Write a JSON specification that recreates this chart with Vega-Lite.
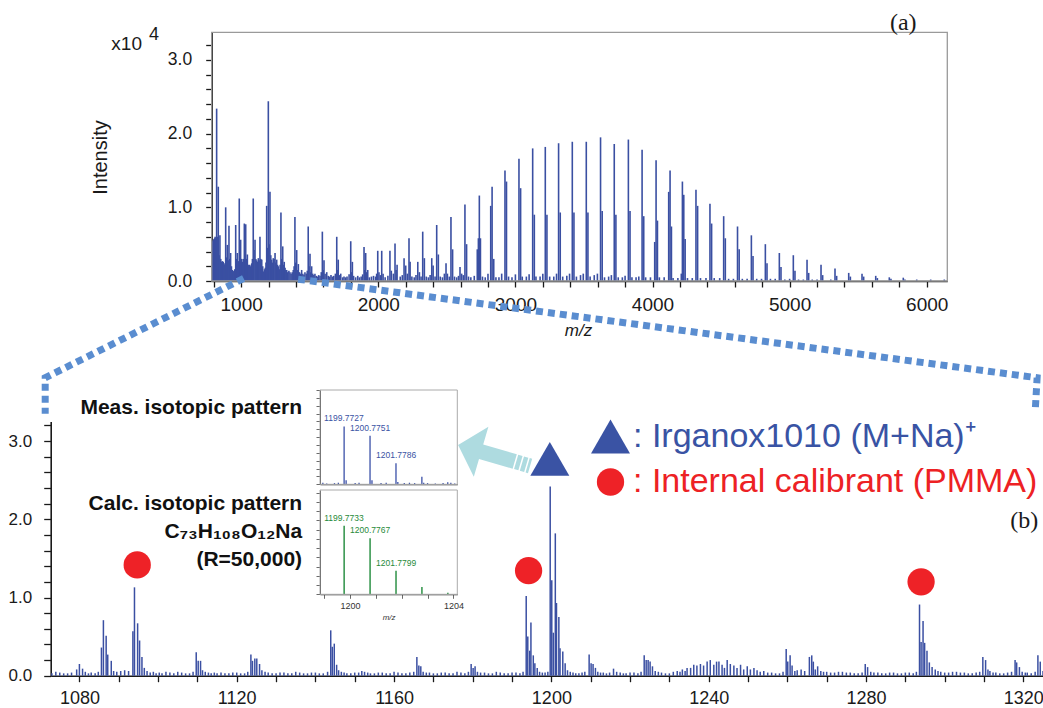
{
"$schema": "https://vega.github.io/schema/vega-lite/v6.json",
"width": 1043, "height": 708, "padding": 0, "autosize": "none", "background": "white",
"config": {
 "view": {"stroke": null},
 "axis": {"grid": false, "labelFont": "Liberation Sans", "titleFont": "Liberation Sans", "labelColor": "#1a1a1a", "titleColor": "#1a1a1a", "domainColor": "#1a1a1a", "tickColor": "#1a1a1a", "zindex": 1, "labelOverlap": false, "labelFlush": false, "labelBound": false, "titleFontWeight": "normal"}
},
"datasets": {
 "top": [
{"m":786,"i":0.50},{"m":790,"i":0.53},{"m":794,"i":0.55},{"m":798,"i":0.56},{"m":802,"i":0.57},{"m":806,"i":0.58},{"m":810,"i":0.60},{"m":814,"i":0.58},{"m":821,"i":2.34},{"m":827,"i":0.60},{"m":833,"i":1.28},{"m":839,"i":0.35},{"m":845,"i":0.62},{"m":851,"i":0.30},{"m":857,"i":0.26},{"m":863,"i":0.27},{"m":869,"i":0.26},{"m":875,"i":0.24},{"m":881,"i":0.22},{"m":887,"i":1.00},{"m":893,"i":0.32},{"m":899,"i":0.49},{"m":905,"i":0.28},{"m":911,"i":0.75},{"m":917,"i":0.30},{"m":923,"i":0.38},{"m":929,"i":0.20},{"m":935,"i":0.15},{"m":941,"i":0.13},{"m":947,"i":0.14},{"m":953,"i":0.16},{"m":960,"i":0.76},{"m":966,"i":0.30},{"m":972,"i":0.38},{"m":979,"i":0.27},{"m":986,"i":1.12},{"m":991,"i":0.40},{"m":996,"i":0.56},{"m":1002,"i":0.30},{"m":1008,"i":0.26},{"m":1015,"i":0.30},{"m":1023,"i":0.78},{"m":1028,"i":0.35},{"m":1033,"i":0.77},{"m":1039,"i":0.30},{"m":1045,"i":0.36},{"m":1051,"i":0.22},{"m":1057,"i":0.20},{"m":1063,"i":0.22},{"m":1070,"i":0.20},{"m":1077,"i":0.24},{"m":1082,"i":0.30},{"m":1088,"i":1.12},{"m":1094,"i":0.42},{"m":1101,"i":0.56},{"m":1107,"i":0.30},{"m":1113,"i":0.28},{"m":1119,"i":0.26},{"m":1125,"i":0.31},{"m":1131,"i":0.28},{"m":1137,"i":0.60},{"m":1143,"i":0.30},{"m":1150,"i":0.29},{"m":1157,"i":0.20},{"m":1164,"i":0.13},{"m":1170,"i":0.16},{"m":1176,"i":0.18},{"m":1181,"i":0.25},{"m":1186,"i":1.02},{"m":1192,"i":0.45},{"m":1198,"i":2.44},{"m":1204,"i":0.50},{"m":1210,"i":1.21},{"m":1216,"i":0.35},{"m":1222,"i":0.29},{"m":1228,"i":0.25},{"m":1234,"i":0.31},{"m":1240,"i":0.30},{"m":1247,"i":0.38},{"m":1253,"i":0.25},{"m":1259,"i":0.29},{"m":1265,"i":0.22},{"m":1271,"i":0.20},{"m":1278,"i":0.16},{"m":1284,"i":0.22},{"m":1290,"i":0.93},{"m":1296,"i":0.30},{"m":1303,"i":0.47},{"m":1309,"i":0.22},{"m":1314,"i":0.26},{"m":1320,"i":0.18},{"m":1326,"i":0.15},{"m":1332,"i":0.15},{"m":1340,"i":0.12},{"m":1348,"i":0.14},{"m":1356,"i":0.12},{"m":1364,"i":0.10},{"m":1372,"i":0.12},{"m":1380,"i":0.15},{"m":1386,"i":0.20},{"m":1392,"i":0.87},{"m":1398,"i":0.25},{"m":1405,"i":0.42},{"m":1411,"i":0.15},{"m":1417,"i":0.23},{"m":1425,"i":0.12},{"m":1433,"i":0.10},{"m":1441,"i":0.15},{"m":1450,"i":0.10},{"m":1458,"i":0.08},{"m":1465,"i":0.12},{"m":1475,"i":0.10},{"m":1482,"i":0.14},{"m":1489,"i":0.74},{"m":1495,"i":0.20},{"m":1502,"i":0.37},{"m":1508,"i":0.12},{"m":1514,"i":0.20},{"m":1522,"i":0.10},{"m":1530,"i":0.08},{"m":1538,"i":0.10},{"m":1548,"i":0.07},{"m":1556,"i":0.06},{"m":1565,"i":0.08},{"m":1575,"i":0.07},{"m":1584,"i":0.12},{"m":1592,"i":0.67},{"m":1598,"i":0.15},{"m":1604,"i":0.28},{"m":1612,"i":0.10},{"m":1624,"i":0.12},{"m":1635,"i":0.07},{"m":1645,"i":0.06},{"m":1655,"i":0.08},{"m":1665,"i":0.06},{"m":1675,"i":0.07},{"m":1687,"i":0.10},{"m":1697,"i":0.60},{"m":1703,"i":0.15},{"m":1708,"i":0.29},{"m":1716,"i":0.08},{"m":1726,"i":0.10},{"m":1740,"i":0.05},{"m":1750,"i":0.06},{"m":1762,"i":0.05},{"m":1772,"i":0.06},{"m":1787,"i":0.09},{"m":1799,"i":0.54},{"m":1805,"i":0.12},{"m":1811,"i":0.26},{"m":1820,"i":0.07},{"m":1835,"i":0.05},{"m":1850,"i":0.07},{"m":1862,"i":0.05},{"m":1875,"i":0.06},{"m":1886,"i":0.09},{"m":1896,"i":0.46},{"m":1902,"i":0.15},{"m":1908,"i":0.38},{"m":1915,"i":0.12},{"m":1923,"i":0.15},{"m":1935,"i":0.05},{"m":1950,"i":0.06},{"m":1965,"i":0.07},{"m":1980,"i":0.06},{"m":1988,"i":0.10},{"m":1996,"i":0.41},{"m":2005,"i":0.12},{"m":2015,"i":0.08},{"m":2025,"i":0.41},{"m":2035,"i":0.10},{"m":2050,"i":0.05},{"m":2070,"i":0.07},{"m":2085,"i":0.41},{"m":2095,"i":0.14},{"m":2110,"i":0.10},{"m":2122,"i":0.51},{"m":2130,"i":0.15},{"m":2137,"i":0.22},{"m":2160,"i":0.06},{"m":2175,"i":0.08},{"m":2188,"i":0.31},{"m":2200,"i":0.21},{"m":2212,"i":0.10},{"m":2224,"i":0.58},{"m":2232,"i":0.26},{"m":2245,"i":0.06},{"m":2262,"i":0.05},{"m":2275,"i":0.08},{"m":2288,"i":0.26},{"m":2300,"i":0.12},{"m":2312,"i":0.06},{"m":2324,"i":0.67},{"m":2336,"i":0.31},{"m":2350,"i":0.06},{"m":2365,"i":0.05},{"m":2378,"i":0.08},{"m":2390,"i":0.31},{"m":2400,"i":0.21},{"m":2414,"i":0.06},{"m":2426,"i":0.76},{"m":2438,"i":0.36},{"m":2452,"i":0.06},{"m":2468,"i":0.05},{"m":2482,"i":0.10},{"m":2494,"i":0.24},{"m":2504,"i":0.10},{"m":2518,"i":0.06},{"m":2530,"i":0.87},{"m":2542,"i":0.43},{"m":2556,"i":0.06},{"m":2572,"i":0.05},{"m":2585,"i":0.07},{"m":2596,"i":0.19},{"m":2608,"i":0.10},{"m":2620,"i":0.08},{"m":2632,"i":1.04},{"m":2644,"i":0.50},{"m":2658,"i":0.06},{"m":2675,"i":0.05},{"m":2700,"i":0.07},{"m":2722,"i":0.43},{"m":2730,"i":0.58},{"m":2737,"i":1.16},{"m":2745,"i":0.58},{"m":2760,"i":0.06},{"m":2780,"i":0.05},{"m":2800,"i":0.10},{"m":2820,"i":1.02},{"m":2830,"i":1.28},{"m":2842,"i":0.30},{"m":2858,"i":0.05},{"m":2880,"i":0.05},{"m":2900,"i":0.10},{"m":2924,"i":1.50},{"m":2935,"i":1.35},{"m":2950,"i":0.06},{"m":2975,"i":0.05},{"m":3000,"i":0.09},{"m":3026,"i":1.66},{"m":3038,"i":1.26},{"m":3050,"i":0.06},{"m":3080,"i":0.06},{"m":3100,"i":0.09},{"m":3126,"i":1.80},{"m":3138,"i":0.90},{"m":3150,"i":0.06},{"m":3180,"i":0.06},{"m":3200,"i":0.10},{"m":3218,"i":1.82},{"m":3230,"i":0.90},{"m":3250,"i":0.06},{"m":3280,"i":0.06},{"m":3300,"i":0.10},{"m":3315,"i":1.87},{"m":3327,"i":0.93},{"m":3345,"i":0.06},{"m":3375,"i":0.07},{"m":3395,"i":0.10},{"m":3415,"i":1.89},{"m":3427,"i":0.93},{"m":3445,"i":0.06},{"m":3475,"i":0.08},{"m":3495,"i":0.10},{"m":3517,"i":1.89},{"m":3529,"i":0.93},{"m":3545,"i":0.06},{"m":3575,"i":0.08},{"m":3598,"i":0.10},{"m":3621,"i":1.95},{"m":3633,"i":0.95},{"m":3650,"i":0.05},{"m":3680,"i":0.06},{"m":3700,"i":0.08},{"m":3721,"i":1.86},{"m":3733,"i":0.90},{"m":3750,"i":0.05},{"m":3780,"i":0.05},{"m":3800,"i":0.07},{"m":3824,"i":1.92},{"m":3836,"i":0.95},{"m":3850,"i":0.05},{"m":3880,"i":0.05},{"m":3900,"i":0.06},{"m":3924,"i":1.78},{"m":3936,"i":0.88},{"m":3950,"i":0.05},{"m":3985,"i":0.05},{"m":4016,"i":0.53},{"m":4026,"i":1.64},{"m":4036,"i":0.82},{"m":4050,"i":0.05},{"m":4085,"i":0.05},{"m":4118,"i":1.21},{"m":4128,"i":1.50},{"m":4138,"i":0.74},{"m":4150,"i":0.04},{"m":4185,"i":0.04},{"m":4210,"i":0.10},{"m":4218,"i":1.35},{"m":4228,"i":1.17},{"m":4238,"i":0.57},{"m":4255,"i":0.04},{"m":4290,"i":0.04},{"m":4317,"i":1.24},{"m":4329,"i":1.02},{"m":4350,"i":0.04},{"m":4390,"i":0.04},{"m":4419,"i":1.05},{"m":4431,"i":0.78},{"m":4450,"i":0.04},{"m":4490,"i":0.04},{"m":4519,"i":0.88},{"m":4531,"i":0.58},{"m":4555,"i":0.03},{"m":4590,"i":0.03},{"m":4620,"i":0.74},{"m":4632,"i":0.43},{"m":4655,"i":0.03},{"m":4690,"i":0.03},{"m":4721,"i":0.62},{"m":4733,"i":0.34},{"m":4760,"i":0.03},{"m":4795,"i":0.03},{"m":4823,"i":0.50},{"m":4835,"i":0.24},{"m":4860,"i":0.03},{"m":4895,"i":0.03},{"m":4925,"i":0.38},{"m":4937,"i":0.19},{"m":4965,"i":0.02},{"m":5000,"i":0.03},{"m":5027,"i":0.35},{"m":5039,"i":0.14},{"m":5065,"i":0.02},{"m":5100,"i":0.02},{"m":5127,"i":0.29},{"m":5139,"i":0.11},{"m":5165,"i":0.02},{"m":5200,"i":0.02},{"m":5229,"i":0.22},{"m":5241,"i":0.08},{"m":5300,"i":0.02},{"m":5331,"i":0.17},{"m":5343,"i":0.07},{"m":5431,"i":0.11},{"m":5443,"i":0.06},{"m":5528,"i":0.10},{"m":5540,"i":0.06},{"m":5628,"i":0.07},{"m":5640,"i":0.04},{"m":5727,"i":0.05},{"m":5739,"i":0.03},{"m":5829,"i":0.045},{"m":5841,"i":0.02},{"m":5927,"i":0.02},{"m":6029,"i":0.02},{"m":6128,"i":0.02}
 ],
 "bot": [
{"m":1073,"i":0.03},{"m":1074,"i":0.05},{"m":1075,"i":0.04},{"m":1076,"i":0.03},{"m":1077,"i":0.03},{"m":1078,"i":0.04},{"m":1079.3,"i":0.08},{"m":1080,"i":0.15},{"m":1080.8,"i":0.09},{"m":1081.5,"i":0.05},{"m":1082.3,"i":0.03},{"m":1083,"i":0.04},{"m":1084,"i":0.03},{"m":1084.8,"i":0.05},{"m":1085.6,"i":0.36},{"m":1086.1,"i":0.71},{"m":1086.8,"i":0.51},{"m":1087.2,"i":0.27},{"m":1088.1,"i":0.19},{"m":1088.7,"i":0.06},{"m":1089.5,"i":0.05},{"m":1090.5,"i":0.06},{"m":1091.5,"i":0.07},{"m":1092.5,"i":0.06},{"m":1093.6,"i":0.57},{"m":1094,"i":1.13},{"m":1094.8,"i":0.67},{"m":1095.3,"i":0.45},{"m":1095.9,"i":0.24},{"m":1096.5,"i":0.10},{"m":1097.2,"i":0.06},{"m":1098,"i":0.04},{"m":1098.8,"i":0.05},{"m":1099.5,"i":0.03},{"m":1100.3,"i":0.04},{"m":1101,"i":0.03},{"m":1102,"i":0.05},{"m":1103,"i":0.04},{"m":1104,"i":0.03},{"m":1105,"i":0.05},{"m":1106,"i":0.04},{"m":1107,"i":0.03},{"m":1108,"i":0.03},{"m":1108.9,"i":0.05},{"m":1109.7,"i":0.30},{"m":1110.2,"i":0.19},{"m":1110.8,"i":0.19},{"m":1111.3,"i":0.07},{"m":1112,"i":0.05},{"m":1112.8,"i":0.04},{"m":1113.5,"i":0.03},{"m":1114.3,"i":0.04},{"m":1115,"i":0.03},{"m":1116,"i":0.04},{"m":1117,"i":0.03},{"m":1118,"i":0.03},{"m":1119,"i":0.04},{"m":1120,"i":0.04},{"m":1121,"i":0.03},{"m":1122,"i":0.03},{"m":1122.8,"i":0.05},{"m":1123.6,"i":0.27},{"m":1124,"i":0.19},{"m":1124.6,"i":0.22},{"m":1125.1,"i":0.22},{"m":1125.8,"i":0.15},{"m":1126.4,"i":0.07},{"m":1127.2,"i":0.05},{"m":1128,"i":0.04},{"m":1129,"i":0.03},{"m":1130,"i":0.03},{"m":1131,"i":0.04},{"m":1132,"i":0.04},{"m":1133,"i":0.03},{"m":1134,"i":0.03},{"m":1135,"i":0.05},{"m":1136,"i":0.04},{"m":1137,"i":0.03},{"m":1138,"i":0.03},{"m":1139,"i":0.04},{"m":1140,"i":0.04},{"m":1141,"i":0.03},{"m":1142,"i":0.03},{"m":1143.1,"i":0.05},{"m":1143.9,"i":0.58},{"m":1144.3,"i":0.37},{"m":1144.8,"i":0.41},{"m":1145.4,"i":0.14},{"m":1145.9,"i":0.07},{"m":1146.6,"i":0.05},{"m":1147.3,"i":0.04},{"m":1148,"i":0.03},{"m":1149,"i":0.03},{"m":1150,"i":0.04},{"m":1151,"i":0.04},{"m":1151.8,"i":0.06},{"m":1152.5,"i":0.05},{"m":1153.3,"i":0.04},{"m":1154,"i":0.03},{"m":1155,"i":0.03},{"m":1156,"i":0.04},{"m":1157,"i":0.04},{"m":1158,"i":0.03},{"m":1159,"i":0.03},{"m":1160,"i":0.05},{"m":1161,"i":0.04},{"m":1162,"i":0.03},{"m":1163,"i":0.03},{"m":1164,"i":0.04},{"m":1165,"i":0.05},{"m":1165.8,"i":0.24},{"m":1166.3,"i":0.13},{"m":1166.8,"i":0.12},{"m":1167.4,"i":0.05},{"m":1168.2,"i":0.04},{"m":1169,"i":0.04},{"m":1170,"i":0.03},{"m":1171,"i":0.03},{"m":1172,"i":0.04},{"m":1173,"i":0.04},{"m":1174,"i":0.03},{"m":1175,"i":0.03},{"m":1176,"i":0.05},{"m":1177,"i":0.04},{"m":1178,"i":0.03},{"m":1178.9,"i":0.05},{"m":1179.6,"i":0.15},{"m":1180.1,"i":0.10},{"m":1180.6,"i":0.12},{"m":1181.2,"i":0.05},{"m":1182,"i":0.04},{"m":1183,"i":0.04},{"m":1184,"i":0.03},{"m":1185,"i":0.03},{"m":1186,"i":0.05},{"m":1187,"i":0.04},{"m":1188,"i":0.03},{"m":1189,"i":0.03},{"m":1190,"i":0.04},{"m":1191,"i":0.04},{"m":1192,"i":0.03},{"m":1192.8,"i":0.05},{"m":1193.6,"i":1.02},{"m":1194,"i":0.50},{"m":1194.5,"i":0.32},{"m":1194.8,"i":0.68},{"m":1195.4,"i":0.26},{"m":1195.8,"i":0.16},{"m":1196.4,"i":0.10},{"m":1197,"i":0.05},{"m":1197.7,"i":0.04},{"m":1198.4,"i":0.04},{"m":1199.1,"i":0.05},{"m":1199.7,"i":2.42},{"m":1200.1,"i":1.22},{"m":1200.5,"i":0.55},{"m":1201,"i":1.82},{"m":1201.3,"i":0.93},{"m":1201.9,"i":0.75},{"m":1202.2,"i":0.35},{"m":1202.9,"i":0.31},{"m":1203.5,"i":0.16},{"m":1204.1,"i":0.07},{"m":1204.8,"i":0.05},{"m":1205.5,"i":0.04},{"m":1206.2,"i":0.03},{"m":1207,"i":0.03},{"m":1207.8,"i":0.04},{"m":1208.5,"i":0.05},{"m":1209.6,"i":0.27},{"m":1210.1,"i":0.16},{"m":1210.6,"i":0.15},{"m":1211.2,"i":0.10},{"m":1211.8,"i":0.05},{"m":1212.5,"i":0.04},{"m":1213.2,"i":0.04},{"m":1214,"i":0.03},{"m":1214.8,"i":0.04},{"m":1215.8,"i":0.09},{"m":1216.6,"i":0.05},{"m":1217.5,"i":0.04},{"m":1218.3,"i":0.03},{"m":1219,"i":0.03},{"m":1220,"i":0.04},{"m":1221,"i":0.04},{"m":1222,"i":0.03},{"m":1222.8,"i":0.05},{"m":1223.6,"i":0.26},{"m":1224.1,"i":0.20},{"m":1224.6,"i":0.20},{"m":1225.1,"i":0.18},{"m":1225.7,"i":0.12},{"m":1226.4,"i":0.06},{"m":1227.2,"i":0.05},{"m":1228,"i":0.04},{"m":1229,"i":0.03},{"m":1230,"i":0.03},{"m":1231,"i":0.05},{"m":1232,"i":0.06},{"m":1232.7,"i":0.05},{"m":1233.3,"i":0.08},{"m":1234,"i":0.06},{"m":1234.5,"i":0.10},{"m":1235.4,"i":0.10},{"m":1236.2,"i":0.14},{"m":1237,"i":0.13},{"m":1237.9,"i":0.15},{"m":1238.7,"i":0.13},{"m":1239.6,"i":0.18},{"m":1240.4,"i":0.20},{"m":1241.3,"i":0.14},{"m":1242,"i":0.18},{"m":1242.6,"i":0.18},{"m":1243.4,"i":0.14},{"m":1244,"i":0.10},{"m":1244.7,"i":0.20},{"m":1245.5,"i":0.15},{"m":1246.4,"i":0.13},{"m":1247.2,"i":0.10},{"m":1248.1,"i":0.14},{"m":1248.9,"i":0.08},{"m":1249.8,"i":0.12},{"m":1250.6,"i":0.08},{"m":1251.5,"i":0.10},{"m":1252.3,"i":0.07},{"m":1253.1,"i":0.05},{"m":1254,"i":0.06},{"m":1255,"i":0.04},{"m":1256,"i":0.04},{"m":1257,"i":0.03},{"m":1258,"i":0.03},{"m":1258.9,"i":0.05},{"m":1259.7,"i":0.34},{"m":1260.1,"i":0.18},{"m":1260.7,"i":0.26},{"m":1261.2,"i":0.13},{"m":1261.9,"i":0.06},{"m":1262.5,"i":0.07},{"m":1263.5,"i":0.08},{"m":1264.4,"i":0.06},{"m":1265.6,"i":0.24},{"m":1266.2,"i":0.26},{"m":1266.6,"i":0.18},{"m":1267.1,"i":0.08},{"m":1267.7,"i":0.12},{"m":1268.5,"i":0.06},{"m":1269.2,"i":0.05},{"m":1270,"i":0.05},{"m":1271,"i":0.04},{"m":1272,"i":0.04},{"m":1273,"i":0.05},{"m":1274,"i":0.05},{"m":1275,"i":0.04},{"m":1276,"i":0.04},{"m":1277,"i":0.03},{"m":1278,"i":0.03},{"m":1279,"i":0.04},{"m":1279.8,"i":0.15},{"m":1280.4,"i":0.11},{"m":1281.2,"i":0.05},{"m":1282,"i":0.04},{"m":1283,"i":0.04},{"m":1284,"i":0.03},{"m":1285,"i":0.03},{"m":1286,"i":0.04},{"m":1287,"i":0.04},{"m":1288,"i":0.03},{"m":1289,"i":0.03},{"m":1290,"i":0.04},{"m":1291,"i":0.04},{"m":1292,"i":0.03},{"m":1292.8,"i":0.05},{"m":1293.6,"i":0.91},{"m":1294,"i":0.43},{"m":1294.5,"i":0.70},{"m":1294.9,"i":0.42},{"m":1295.5,"i":0.32},{"m":1296.1,"i":0.17},{"m":1296.8,"i":0.11},{"m":1297.6,"i":0.08},{"m":1298.3,"i":0.06},{"m":1299,"i":0.05},{"m":1300,"i":0.04},{"m":1301,"i":0.04},{"m":1302,"i":0.05},{"m":1303,"i":0.05},{"m":1304,"i":0.04},{"m":1305,"i":0.04},{"m":1306,"i":0.03},{"m":1307,"i":0.03},{"m":1308,"i":0.04},{"m":1308.9,"i":0.05},{"m":1309.7,"i":0.24},{"m":1310.4,"i":0.20},{"m":1311,"i":0.08},{"m":1311.5,"i":0.06},{"m":1312.3,"i":0.04},{"m":1313,"i":0.04},{"m":1314,"i":0.03},{"m":1315,"i":0.03},{"m":1316,"i":0.04},{"m":1317,"i":0.05},{"m":1317.9,"i":0.20},{"m":1318.3,"i":0.17},{"m":1319,"i":0.11},{"m":1319.7,"i":0.05},{"m":1320.5,"i":0.04},{"m":1321,"i":0.04},{"m":1322,"i":0.03},{"m":1323,"i":0.05},{"m":1323.7,"i":0.26},{"m":1324.3,"i":0.18},{"m":1325,"i":0.06}
 ],
 "meas": [
{"m":1198.95,"i":0.2},{"m":1199.1,"i":0.1},{"m":1199.4,"i":0.15},{"m":1199.55,"i":0.2},{"m":1199.7727,"i":7.36,"label":"1199.7727"},{"m":1199.85,"i":0.5},{"m":1200.2,"i":0.15},{"m":1200.35,"i":0.2},{"m":1200.7751,"i":6.17,"label":"1200.7751"},{"m":1200.85,"i":0.5},{"m":1201.2,"i":0.15},{"m":1201.4,"i":0.2},{"m":1201.7786,"i":2.68,"label":"1201.7786"},{"m":1201.85,"i":0.3},{"m":1202.1,"i":0.15},{"m":1202.3,"i":0.2},{"m":1202.5,"i":0.15},{"m":1202.78,"i":0.97},{"m":1202.85,"i":0.2},{"m":1203.0,"i":0.15},{"m":1203.3,"i":0.1},{"m":1203.6,"i":0.15},{"m":1203.78,"i":0.25},{"m":1203.9,"i":0.2},{"m":1204.05,"i":0.1}
 ],
 "calc": [
{"m":1199.7733,"i":7.43,"label":"1199.7733"},{"m":1200.7767,"i":6.07,"label":"1200.7767"},{"m":1201.7799,"i":2.56,"label":"1201.7799"},{"m":1202.782,"i":0.79},{"m":1203.785,"i":0.16}
 ],
 "zoom": [
{"side":"L","k":0,"m":1121.75,"v":5.08},{"side":"L","k":1,"m":1071.3,"v":3.81},{"side":"L","k":2,"m":1071.3,"v":3.35},
{"side":"R","k":0,"m":1135.6,"v":5.07},{"side":"R","k":1,"m":1323.5,"v":3.81},{"side":"R","k":2,"m":1323.0,"v":3.37}
 ],
 "markers": [
{"m":1199.6,"v":2.774,"cat":": Irganox1010 (M+Na)⁺"},
{"m":1094.7,"v":1.416,"cat":": Internal calibrant (PMMA)"},
{"m":1194.2,"v":1.343,"cat":": Internal calibrant (PMMA)"},
{"m":1294.0,"v":1.20,"cat":": Internal calibrant (PMMA)"}
 ]
},
"layer": [
 {
  "data": {"name": "top"},
  "mark": {"type": "rule", "color": "#3a4fa2", "strokeWidth": 1.6},
  "encoding": {
   "x": {"field": "m", "type": "quantitative",
     "scale": {"domain": [785, 6150], "range": [211.7, 947.3], "nice": false, "zero": false},
     "axis": {"orient": "bottom", "offset": -427, "values": [800,1000,1200,1400,1600,1800,2000,2200,2400,2600,2800,3000,3200,3400,3600,3800,4000,4200,4400,4600,4800,5000,5200,5400,5600,5800,6000],
       "labelExpr": "datum.value % 1000 === 0 ? '' + datum.value : ''", "labelFontSize": 19, "tickSize": 6, "labelPadding": 8, "domainWidth": 1.6, "tickWidth": 1.3,
       "title": "m/z", "titleFontStyle": "italic", "titleFontSize": 17, "titleX": 578, "titleY": 49, "titleAlign": "center", "titleBaseline": "middle"}},
   "y": {"field": "i", "type": "quantitative",
     "scale": {"domain": [0, 3.376], "range": [281, 32.3], "nice": false, "zero": false},
     "axis": {"orient": "left", "offset": -211.7, "values": [0,0.2,0.4,0.6,0.8,1,1.2,1.4,1.6,1.8,2,2.2,2.4,2.6,2.8,3,3.2],
       "labelExpr": "abs(datum.value - round(datum.value)) < 0.001 ? format(datum.value, '.1f') : ''", "labelFontSize": 17.5, "tickSize": 6, "labelPadding": 14, "domainWidth": 1.6, "tickWidth": 1.3,
       "title": "Intensity", "titleFontSize": 20, "titleX": -111.7, "titleY": 157, "titleAngle": -90, "titleAlign": "center", "titleBaseline": "middle"}},
   "y2": {"datum": 0}
  }
 },
 {
  "data": {"values": [{}]},
  "mark": {"type": "rect", "fillOpacity": 0, "stroke": "#9a9a9a", "strokeWidth": 1.3},
  "encoding": {
   "x": {"datum": 785, "type": "quantitative", "scale": {"domain": [785, 6150], "range": [211.7, 947.3], "nice": false, "zero": false}, "axis": null}, "x2": {"datum": 6150},
   "y": {"datum": 0, "type": "quantitative", "scale": {"domain": [0, 3.376], "range": [281, 32.3], "nice": false, "zero": false}, "axis": null}, "y2": {"datum": 3.376}}
 },
 {
  "data": {"values": [{}]},
  "mark": {"type": "text", "text": "x10", "font": "Liberation Sans", "fontSize": 19, "align": "center", "baseline": "middle", "color": "#1a1a1a"},
  "encoding": {
   "x": {"datum": 164.8, "type": "quantitative", "scale": {"domain": [785, 6150], "range": [211.7, 947.3], "nice": false, "zero": false}, "axis": null},
   "y": {"datum": 3.217, "type": "quantitative", "scale": {"domain": [0, 3.376], "range": [281, 32.3], "nice": false, "zero": false}, "axis": null}}
 },
 {
  "data": {"values": [{}]},
  "mark": {"type": "text", "text": "4", "font": "Liberation Sans", "fontSize": 18, "align": "center", "baseline": "middle", "color": "#1a1a1a"},
  "encoding": {
   "x": {"datum": 364, "type": "quantitative", "scale": {"domain": [785, 6150], "range": [211.7, 947.3], "nice": false, "zero": false}, "axis": null},
   "y": {"datum": 3.339, "type": "quantitative", "scale": {"domain": [0, 3.376], "range": [281, 32.3], "nice": false, "zero": false}, "axis": null}}
 },
 {
  "data": {"values": [{}]},
  "mark": {"type": "text", "text": "(a)", "font": "Liberation Serif", "fontSize": 24, "align": "center", "baseline": "middle", "color": "#1a1a1a"},
  "encoding": {
   "x": {"datum": 5829, "type": "quantitative", "scale": {"domain": [785, 6150], "range": [211.7, 947.3], "nice": false, "zero": false}, "axis": null},
   "y": {"datum": 3.498, "type": "quantitative", "scale": {"domain": [0, 3.376], "range": [281, 32.3], "nice": false, "zero": false}, "axis": null}}
 },
 {
  "data": {"name": "bot"},
  "mark": {"type": "rule", "color": "#3a4fa2", "strokeWidth": 1.5},
  "encoding": {
   "x": {"field": "m", "type": "quantitative",
     "scale": {"domain": [1072.7, 1325.2], "range": [50.7, 1043.8], "nice": false, "zero": false},
     "axis": {"orient": "bottom", "offset": -32.3, "values": [1080,1090,1100,1110,1120,1130,1140,1150,1160,1170,1180,1190,1200,1210,1220,1230,1240,1250,1260,1270,1280,1290,1300,1310,1320],
       "labelExpr": "datum.value % 40 === 0 ? '' + datum.value : ''", "labelFontSize": 18, "tickSize": 6, "labelPadding": 8, "domainWidth": 1.6, "tickWidth": 1.3, "title": null}},
   "y": {"field": "i", "type": "quantitative",
     "scale": {"domain": [0, 3.25], "range": [675.7, 421.55], "nice": false, "zero": false},
     "axis": {"orient": "left", "offset": -50.7, "values": [0,0.2,0.4,0.6,0.8,1,1.2,1.4,1.6,1.8,2,2.2,2.4,2.6,2.8,3,3.2],
       "labelExpr": "abs(datum.value - round(datum.value)) < 0.001 ? format(datum.value, '.1f') : ''", "labelFontSize": 17, "tickSize": 7, "labelPadding": 12, "domainWidth": 1.6, "tickWidth": 1.3, "title": null}},
   "y2": {"datum": 0}
  }
 },
 {
  "data": {"name": "zoom"},
  "mark": {"type": "line", "color": "#5a8dd0", "strokeWidth": 7, "strokeDash": [7, 5], "strokeCap": "butt"},
  "encoding": {
   "x": {"field": "m", "type": "quantitative", "scale": {"domain": [1072.7, 1325.2], "range": [50.7, 1043.8], "nice": false, "zero": false}, "axis": null},
   "y": {"field": "v", "type": "quantitative", "scale": {"domain": [0, 3.25], "range": [675.7, 421.55], "nice": false, "zero": false}, "axis": null},
   "detail": {"field": "side"},
   "order": {"field": "k", "type": "quantitative"}
  }
 },
 {
  "data": {"values": [{}]},
  "mark": {"type": "point", "filled": true, "opacity": 1, "color": "#aedbe0", "size": 6400,
    "shape": "M-0.85,-0.2L-0.0925,-0.6575L-0.2225,-0.2125L0.6175,0.0325L0.5125,0.3925L-0.3275,0.1475L-0.4575,0.5925ZM0.6535,0.043L0.7615,0.0745L0.6565,0.4345L0.5485,0.403ZM0.7975,0.085L0.9055,0.1165L0.8005,0.4765L0.6925,0.445ZM0.9415,0.127L1.0015,0.1445L0.8965,0.5045L0.8365,0.487Z"},
  "encoding": {
   "x": {"datum": 1184.93, "type": "quantitative", "scale": {"domain": [1072.7, 1325.2], "range": [50.7, 1043.8], "nice": false, "zero": false}, "axis": null},
   "y": {"datum": 2.848, "type": "quantitative", "scale": {"domain": [0, 3.25], "range": [675.7, 421.55], "nice": false, "zero": false}, "axis": null}}
 },
 {
  "data": {"name": "markers"},
  "mark": {"type": "point", "filled": true, "opacity": 1, "strokeWidth": 0},
  "encoding": {
   "x": {"field": "m", "type": "quantitative", "scale": {"domain": [1072.7, 1325.2], "range": [50.7, 1043.8], "nice": false, "zero": false}, "axis": null},
   "y": {"field": "v", "type": "quantitative", "scale": {"domain": [0, 3.25], "range": [675.7, 421.55], "nice": false, "zero": false}, "axis": null},
   "shape": {"field": "cat", "type": "nominal", "scale": {"domain": [": Irganox1010 (M+Na)⁺", ": Internal calibrant (PMMA)"], "range": ["triangle-up", "circle"]},
     "legend": {"title": null, "orient": "none", "legendX": 591, "legendY": 417, "symbolSize": 870, "symbolStrokeWidth": 0, "labelFont": "Liberation Sans", "labelFontSize": 34, "labelOffset": 3, "rowPadding": 11, "padding": 0, "labelLimit": 600,
       "labelColor": {"expr": "indexof(datum.value, 'Irganox') >= 0 ? '#3953a4' : '#ed2124'"}}},
   "color": {"field": "cat", "type": "nominal", "scale": {"domain": [": Irganox1010 (M+Na)⁺", ": Internal calibrant (PMMA)"], "range": ["#3a53a4", "#ee2227"]},
     "legend": {"title": null, "orient": "none", "legendX": 591, "legendY": 417, "symbolSize": 870, "symbolStrokeWidth": 0, "labelFont": "Liberation Sans", "labelFontSize": 34, "labelOffset": 3, "rowPadding": 11, "padding": 0, "labelLimit": 600,
       "labelColor": {"expr": "indexof(datum.value, 'Irganox') >= 0 ? '#3953a4' : '#ed2124'"}}},
   "size": {"field": "cat", "type": "nominal", "scale": {"domain": [": Irganox1010 (M+Na)⁺", ": Internal calibrant (PMMA)"], "range": [1521, 745]}, "legend": null}
  }
 },
 {
  "data": {"values": [{}]},
  "mark": {"type": "text", "text": "Meas. isotopic pattern", "font": "Liberation Sans", "fontWeight": "bold", "fontSize": 21, "align": "right", "baseline": "middle", "color": "#111"},
  "encoding": {
   "x": {"datum": 1136.62, "type": "quantitative", "scale": {"domain": [1072.7, 1325.2], "range": [50.7, 1043.8], "nice": false, "zero": false}, "axis": null},
   "y": {"datum": 3.419, "type": "quantitative", "scale": {"domain": [0, 3.25], "range": [675.7, 421.55], "nice": false, "zero": false}, "axis": null}}
 },
 {
  "data": {"values": [{}]},
  "mark": {"type": "text", "text": "Calc. isotopic pattern", "font": "Liberation Sans", "fontWeight": "bold", "fontSize": 21, "align": "right", "baseline": "middle", "color": "#111"},
  "encoding": {
   "x": {"datum": 1136.62, "type": "quantitative", "scale": {"domain": [1072.7, 1325.2], "range": [50.7, 1043.8], "nice": false, "zero": false}, "axis": null},
   "y": {"datum": 2.196, "type": "quantitative", "scale": {"domain": [0, 3.25], "range": [675.7, 421.55], "nice": false, "zero": false}, "axis": null}}
 },
 {
  "data": {"values": [{}]},
  "mark": {"type": "text", "text": "C₇₃H₁₀₈O₁₂Na", "font": "Liberation Sans", "fontWeight": "bold", "fontSize": 21, "align": "right", "baseline": "middle", "color": "#111"},
  "encoding": {
   "x": {"datum": 1136.62, "type": "quantitative", "scale": {"domain": [1072.7, 1325.2], "range": [50.7, 1043.8], "nice": false, "zero": false}, "axis": null},
   "y": {"datum": 1.841, "type": "quantitative", "scale": {"domain": [0, 3.25], "range": [675.7, 421.55], "nice": false, "zero": false}, "axis": null}}
 },
 {
  "data": {"values": [{}]},
  "mark": {"type": "text", "text": "(R=50,000)", "font": "Liberation Sans", "fontWeight": "bold", "fontSize": 21, "align": "right", "baseline": "middle", "color": "#111"},
  "encoding": {
   "x": {"datum": 1136.62, "type": "quantitative", "scale": {"domain": [1072.7, 1325.2], "range": [50.7, 1043.8], "nice": false, "zero": false}, "axis": null},
   "y": {"datum": 1.48, "type": "quantitative", "scale": {"domain": [0, 3.25], "range": [675.7, 421.55], "nice": false, "zero": false}, "axis": null}}
 },
 {
  "data": {"values": [{}]},
  "mark": {"type": "text", "text": "(b)", "font": "Liberation Serif", "fontSize": 24, "align": "center", "baseline": "middle", "color": "#1a1a1a"},
  "encoding": {
   "x": {"datum": 1320.2, "type": "quantitative", "scale": {"domain": [1072.7, 1325.2], "range": [50.7, 1043.8], "nice": false, "zero": false}, "axis": null},
   "y": {"datum": 1.978, "type": "quantitative", "scale": {"domain": [0, 3.25], "range": [675.7, 421.55], "nice": false, "zero": false}, "axis": null}}
 },
 {
  "data": {"name": "meas"},
  "mark": {"type": "rule", "color": "#3a50a8", "strokeWidth": 1.3},
  "encoding": {
   "x": {"field": "m", "type": "quantitative",
     "scale": {"domain": [1198.84, 1204.15], "range": [320, 457.3], "nice": false, "zero": false},
     "axis": {"orient": "bottom", "offset": -223.7, "ticks": false, "labels": false, "domainWidth": 1, "domainColor": "#444", "title": null}},
   "y": {"field": "i", "type": "quantitative",
     "scale": {"domain": [0, 12], "range": [484.3, 390], "nice": false, "zero": false},
     "axis": {"orient": "left", "offset": -320, "values": [0,1,2,3,4,5,6,7,8,9,10,11,12], "labels": false, "tickSize": 4, "tickWidth": 0.8, "domainWidth": 1, "domainColor": "#444", "tickColor": "#444", "title": null}},
   "y2": {"datum": 0}
  }
 },
 {
  "data": {"values": [{}]},
  "mark": {"type": "rect", "fillOpacity": 0, "stroke": "#aaaaaa", "strokeWidth": 1},
  "encoding": {
   "x": {"datum": 1198.84, "type": "quantitative", "scale": {"domain": [1198.84, 1204.15], "range": [320, 457.3], "nice": false, "zero": false}, "axis": null}, "x2": {"datum": 1204.15},
   "y": {"datum": 0, "type": "quantitative", "scale": {"domain": [0, 12], "range": [484.3, 390], "nice": false, "zero": false}, "axis": null}, "y2": {"datum": 12}}
 },
 {
  "data": {"name": "meas"},
  "transform": [{"filter": "isValid(datum.label)"}],
  "mark": {"type": "text", "font": "Liberation Sans", "fontSize": 8.5, "align": "left", "baseline": "middle", "dx": -20, "dy": -8, "color": "#3a53a4"},
  "encoding": {
   "x": {"field": "m", "type": "quantitative", "scale": {"domain": [1198.84, 1204.15], "range": [320, 457.3], "nice": false, "zero": false}, "axis": null},
   "y": {"field": "i", "type": "quantitative", "scale": {"domain": [0, 12], "range": [484.3, 390], "nice": false, "zero": false}, "axis": null},
   "text": {"field": "label"}}
 },
 {
  "data": {"name": "calc"},
  "mark": {"type": "rule", "color": "#1f8a3a", "strokeWidth": 1.4},
  "encoding": {
   "x": {"field": "m", "type": "quantitative",
     "scale": {"domain": [1198.84, 1204.15], "range": [320, 457.3], "nice": false, "zero": false},
     "axis": {"orient": "bottom", "offset": -113.7, "values": [1199,1200,1201,1202,1203,1204], "labelExpr": "datum.value === 1200 || datum.value === 1204 ? '' + datum.value : ''", "labelFontSize": 9, "labelPadding": 3, "tickSize": 4, "tickWidth": 0.8, "domainWidth": 1, "domainColor": "#444", "tickColor": "#444", "labelColor": "#333",
       "title": "m/z", "titleFontStyle": "italic", "titleFontSize": 8, "titleX": 388.6, "titleY": 22.7, "titleAlign": "center", "titleBaseline": "middle", "titleColor": "#333"}},
   "y": {"field": "i", "type": "quantitative",
     "scale": {"domain": [0, 11.3], "range": [594.3, 490], "nice": false, "zero": false},
     "axis": {"orient": "left", "offset": -320, "values": [0,1,2,3,4,5,6,7,8,9,10,11], "labels": false, "tickSize": 4, "tickWidth": 0.8, "domainWidth": 1, "domainColor": "#444", "tickColor": "#444", "title": null}},
   "y2": {"datum": 0}
  }
 },
 {
  "data": {"values": [{}]},
  "mark": {"type": "rect", "fillOpacity": 0, "stroke": "#aaaaaa", "strokeWidth": 1},
  "encoding": {
   "x": {"datum": 1198.84, "type": "quantitative", "scale": {"domain": [1198.84, 1204.15], "range": [320, 457.3], "nice": false, "zero": false}, "axis": null}, "x2": {"datum": 1204.15},
   "y": {"datum": 0, "type": "quantitative", "scale": {"domain": [0, 11.3], "range": [594.3, 490], "nice": false, "zero": false}, "axis": null}, "y2": {"datum": 11.3}}
 },
 {
  "data": {"name": "calc"},
  "transform": [{"filter": "isValid(datum.label)"}],
  "mark": {"type": "text", "font": "Liberation Sans", "fontSize": 8.5, "align": "left", "baseline": "middle", "dx": -20, "dy": -8, "color": "#1f8a3a"},
  "encoding": {
   "x": {"field": "m", "type": "quantitative", "scale": {"domain": [1198.84, 1204.15], "range": [320, 457.3], "nice": false, "zero": false}, "axis": null},
   "y": {"field": "i", "type": "quantitative", "scale": {"domain": [0, 11.3], "range": [594.3, 490], "nice": false, "zero": false}, "axis": null},
   "text": {"field": "label"}}
 }
],
"resolve": {"scale": {"x": "independent", "y": "independent"}, "axis": {"x": "independent", "y": "independent"}}
}
